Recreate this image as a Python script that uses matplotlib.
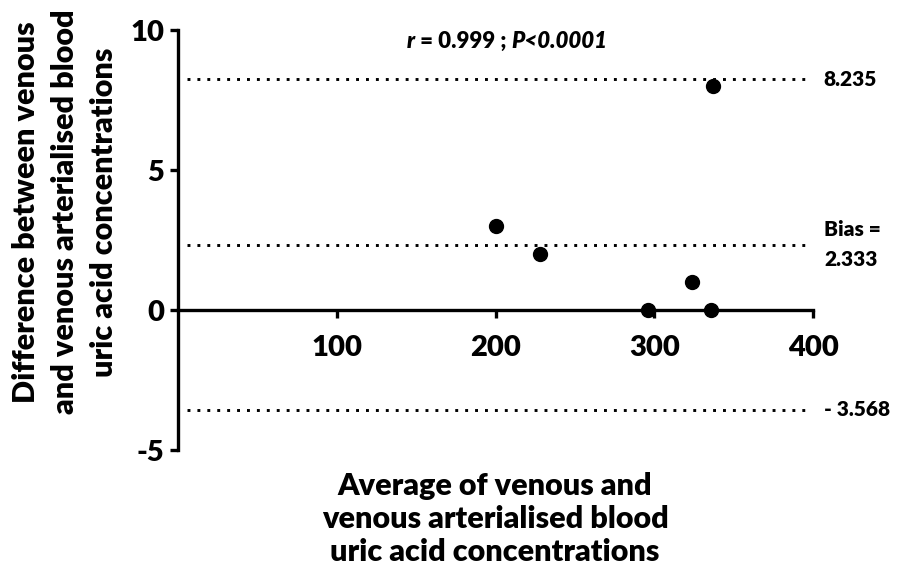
import matplotlib
matplotlib.use("Agg")
import matplotlib.pyplot as plt
from matplotlib.offsetbox import TextArea, HPacker, AnchoredOffsetbox

plt.rcParams['font.family'] = ['Lato', 'DejaVu Sans']
plt.rcParams['font.weight'] = 'heavy'
plt.rcParams['axes.unicode_minus'] = False

# averages and differences (venous vs venous arterialised uric acid)
average = [200, 228, 296, 324, 336, 337]
difference = [3, 2, 0, 1, 0, 8]

bias = 2.333
upper_loa = 8.235
lower_loa = -3.568

x_ticks = [100, 200, 300, 400]
y_ticks = [-5, 0, 5, 10]

W = 'heavy'

fig = plt.figure(figsize=(8.97, 5.71), dpi=100)
ax = fig.add_axes([0.1984, 0.2119, 0.708, 0.7355])

ax.plot(average, difference, 'o', color='black', markersize=10, clip_on=False, zorder=3)

dots = (0, (1, 2.4))
for yv in (upper_loa, bias, lower_loa):
    ax.hlines(yv, 6, 398, colors='black', linewidth=2.1, linestyles=dots, clip_on=False)

ax.set_xlim(0, 400)
ax.set_ylim(-5, 10)
ax.set_xticks(x_ticks)
ax.set_yticks(y_ticks)

for side in ('top', 'right'):
    ax.spines[side].set_visible(False)
ax.spines['bottom'].set_position(('data', 0))
ax.spines['left'].set_linewidth(2.4)
ax.spines['bottom'].set_linewidth(2.4)
ax.tick_params(axis='both', direction='out', length=6, width=2.4, labelsize=21)
ax.tick_params(axis='x', pad=12)
ax.tick_params(axis='y', pad=4)
for lab in ax.get_xticklabels() + ax.get_yticklabels():
    lab.set_fontweight(W)

# limits of agreement labels
ax.text(1.017, upper_loa, '8.235', transform=ax.get_yaxis_transform(),
        ha='left', va='center', fontsize=15, fontweight=W)
ax.text(1.018, bias, 'Bias =\n2.333', transform=ax.get_yaxis_transform(),
        ha='left', va='center', fontsize=15, fontweight=W, linespacing=1.7)
ax.text(1.017, lower_loa, '- 3.568', transform=ax.get_yaxis_transform(),
        ha='left', va='center', fontsize=15, fontweight=W)

# correlation annotation with italic r and P
parts = [('r', 'italic'), (' = 0.999 ; ', 'normal'), ('P<0.0001', 'italic')]
boxes = [TextArea(t, textprops=dict(fontsize=16, fontweight=W, fontstyle=s))
         for t, s in parts]
pack = HPacker(children=boxes, align='baseline', pad=0, sep=0)
anchored = AnchoredOffsetbox(loc='center', child=pack, frameon=False,
                             bbox_to_anchor=(507 / 897, 1 - 41 / 571),
                             bbox_transform=fig.transFigure, pad=0, borderpad=0)
fig.add_artist(anchored)

fig.text(65 / 897, 1 - 212 / 571,
         'Difference between venous\nand venous arterialised blood\nuric acid concentrations',
         rotation=90, ha='center', va='center', fontsize=22, fontweight=W,
         multialignment='center', linespacing=1.48)
fig.text(495 / 897, 1 - 519 / 571,
         'Average of venous and\nvenous arterialised blood\nuric acid concentrations',
         ha='center', va='center', fontsize=22, fontweight=W,
         multialignment='center', linespacing=1.22)

fig.savefig('out.png', dpi=100)
